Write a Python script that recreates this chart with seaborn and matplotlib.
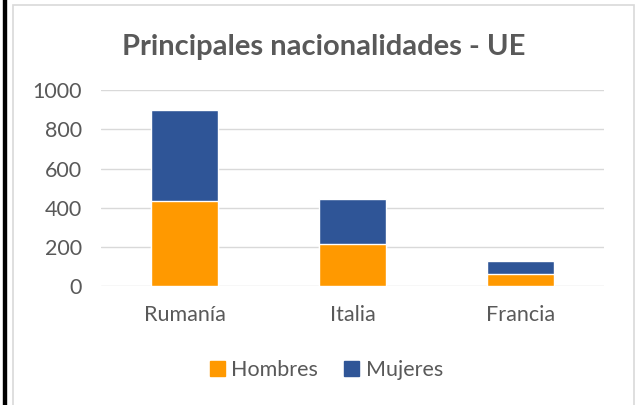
import matplotlib
matplotlib.use("Agg")
import matplotlib.pyplot as plt
from matplotlib.patches import Patch, Rectangle
import pandas as pd
import seaborn as sns

# data
paises = ["Rumanía", "Italia", "Francia"]
hombres = [433, 212, 62]
mujeres = [468, 231, 68]

naranja = "#FF9900"
azul = "#2F5597"
gris = "#595959"

df = pd.DataFrame({"pais": paises, "Hombres": hombres, "Mujeres": mujeres})
df["total"] = df["Hombres"] + df["Mujeres"]

sns.set_theme(style="white")
plt.rcParams["font.family"] = ["Lato", "DejaVu Sans"]

fig = plt.figure(figsize=(6.4, 4.05), dpi=100)
ax = fig.add_axes([0.158, 0.294, 0.786, 0.483])

# stacked: total (Mujeres on top) first, then Hombres over it
sns.barplot(data=df, x="pais", y="total", color=azul, width=0.4,
            saturation=1, ax=ax, zorder=3)
sns.barplot(data=df, x="pais", y="Hombres", color=naranja, width=0.4,
            saturation=1, ax=ax, zorder=4)

ax.set_ylim(0, 1000)
ax.set_xlim(-0.5, 2.5)
ax.set_yticks(range(0, 1001, 200))
ax.yaxis.grid(True, color="#D9D9D9", linewidth=1, zorder=0)
ax.set_xlabel("")
ax.set_ylabel("")
for s in ax.spines.values():
    s.set_visible(False)
ax.tick_params(axis="both", length=0, labelsize=15.5, labelcolor=gris)
ax.tick_params(axis="y", pad=14)
ax.tick_params(axis="x", pad=14)

fig.text(0.505, 0.885, "Principales nacionalidades - UE", ha="center", va="center",
         fontsize=21, fontweight="bold", color=gris)

handles = [Patch(color=naranja, label="Hombres"), Patch(color=azul, label="Mujeres")]
fig.legend(handles=handles, loc="center", bbox_to_anchor=(0.51, 0.087), ncol=2,
           frameon=False, fontsize=15.5, labelcolor=gris, handlelength=0.7,
           handleheight=0.7, handletextpad=0.3, columnspacing=1.2)

# chart frame and outer black line
fig.patches.append(Rectangle((13 / 640, -0.05), 621 / 640, 1 - 5 / 405 + 0.05,
                             transform=fig.transFigure, fill=False,
                             edgecolor="#D9D9D9", linewidth=1.2))
fig.patches.append(Rectangle((3 / 640, -0.05), 2.5 / 640, 1.1,
                             transform=fig.transFigure, color="black"))

fig.savefig("out.png", dpi=100)
